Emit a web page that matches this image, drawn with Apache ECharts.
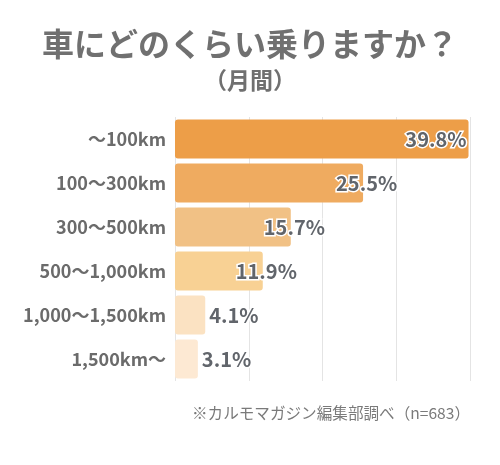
<!DOCTYPE html>
<html><head><meta charset="utf-8">
<script src="https://cdn.jsdelivr.net/npm/echarts@6/dist/echarts.min.js"></script>
<style>html,body{margin:0;padding:0;background:#fff}#c{width:500px;height:465px}</style>
</head><body><div id="c"></div>
<script>
const categories = ['～100km','100～300km','300～500km','500～1,000km','1,000～1,500km','1,500km～'];
const values = [39.8, 25.5, 15.7, 11.9, 4.1, 3.1];
const barColors = ['#ED9E48','#EFAB60','#F1C185','#F8D194','#FBE2C2','#FDE9D3'];
const xTicks = [0, 10, 20, 30, 40];
const titleText = '車にどのくらい乗りますか？';
const subTitleText = '（月間）';
const noteText = '※カルモマガジン編集部調べ（n=683）';

const FONT = '"Noto Sans CJK JP", "Noto Sans", sans-serif';
const labelPos = ['insideRight','mid','mid','mid','right','right'];

const chart = echarts.init(document.getElementById('c'), null, {renderer:'canvas'});
chart.setOption({
  backgroundColor:'#fff',
  animation:false,
  title:[
    {text:titleText, left:'center', top:23, textStyle:{fontFamily:FONT, fontSize:32, fontWeight:'bold', color:'#707070'}},
    {text:subTitleText, left:'center', top:64, textStyle:{fontFamily:FONT, fontSize:23, fontWeight:'bold', color:'#707070'}}
  ],
  grid:{left:175, right:30, top:117, bottom:84},
  xAxis:{type:'value', min:xTicks[0], max:xTicks[xTicks.length-1], interval:10,
    axisLabel:{show:false}, axisLine:{show:false}, axisTick:{show:false},
    splitLine:{lineStyle:{color:'#e4e4e4', width:1}}},
  yAxis:{type:'category', data:categories, inverse:true,
    axisLine:{show:false}, axisTick:{show:false},
    axisLabel:{fontFamily:FONT, fontSize:18, fontWeight:'bold', color:'#6b6b6b', margin:9}},
  series:[{
    type:'bar', barCategoryGap:'11%',
    data: values.map((v,i)=>{
      const p = labelPos[i];
      let label;
      if(p==='insideRight') label={position:'insideRight', distance:2};
      else if(p==='mid') label={position:'right', distance:0, offset:[-27,0]};
      else label={position:'right', distance:4};
      return {value:v, itemStyle:{color:barColors[i], borderRadius:3}, label};
    }),
    label:{show:true, formatter:p=>p.value.toFixed(1)+'%', fontFamily:FONT, fontSize:20, fontWeight:'bold',
      color:'#61656b', textBorderColor:'#fff', textBorderWidth:3}
  }],
  graphic:[{type:'text', right:30, top:405, style:{text:noteText, font:'15.6px '+FONT, fill:'#7a7a7a'}}]
});
</script></body></html>
